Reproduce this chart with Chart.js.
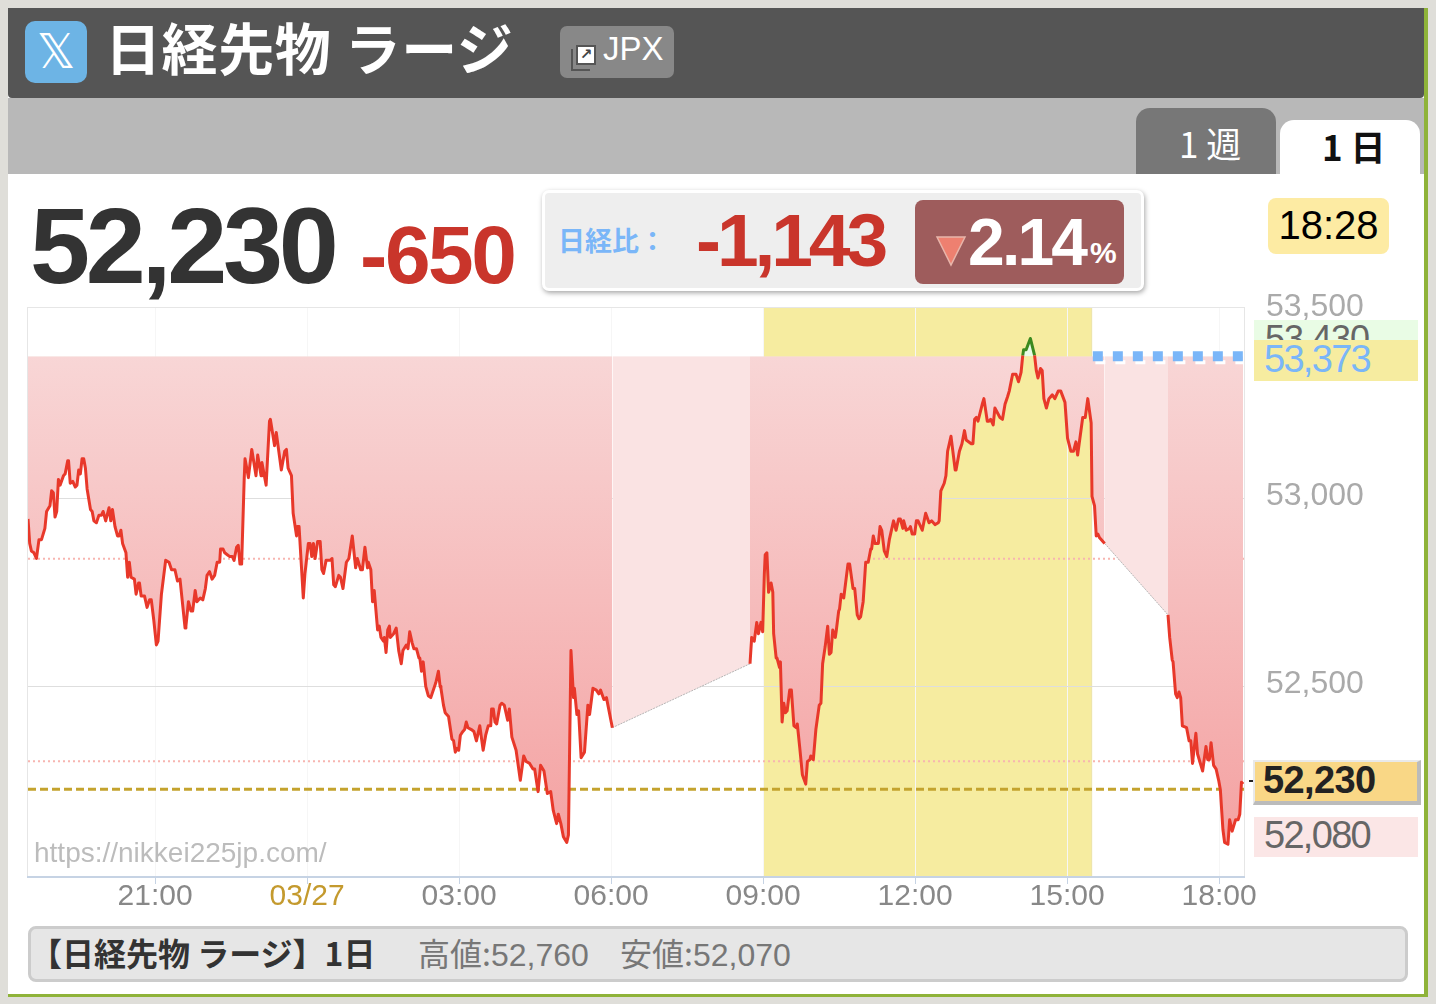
<!DOCTYPE html>
<html lang="ja">
<head>
<meta charset="utf-8">
<title>日経先物 ラージ</title>
<script src="https://cdn.jsdelivr.net/npm/chart.js@4/dist/chart.umd.min.js"></script>
<style>
  html, body { margin: 0; padding: 0; }
  body { width: 1436px; height: 1004px; overflow: hidden; position: relative; background: #dfded9;
         font-family: "Liberation Sans", Arial, sans-serif; }
  .a { position: absolute; white-space: nowrap; box-sizing: border-box; }
  .jp { font-family: "Noto Sans CJK JP", sans-serif; }
  #myChart { position: absolute; left: 0; top: 0; z-index: 2; }
</style>
</head>
<body>
<div class="a" style="left:8px;top:8px;width:1416px;height:986px;background:#fff;border-right:4px solid #8fb339;border-bottom:3px solid #8fb339;box-sizing:content-box"></div>
<div class="a" style="left:8px;top:98px;width:1416px;height:76px;background:#b8b8b8"></div>
<div class="a" style="left:8px;top:8px;width:1416px;height:90px;background:#555;border-radius:0 0 4px 4px"></div>

<div class="a" style="left:25px;top:21px;width:62px;height:62px;background:#6db4e5;border-radius:10px;color:#fff;font:48px/60px 'DejaVu Sans';text-align:center">𝕏</div>
<div class="a jp" style="left:105px;top:6px;color:#fff;font-size:56px;line-height:80px;font-weight:700;letter-spacing:0.6px">日経先物 ラージ</div>
<div class="a" style="left:560px;top:26px;width:114px;height:52px;background:#888;border-radius:7px"></div>
<div class="a" style="left:571px;top:49px;width:19px;height:22px;border:2px solid #555;border-top:0;border-right:0"></div>
<div class="a" style="left:576px;top:45px;width:20px;height:20px;background:#fff;border:2px solid #555;color:#444;font:bold 15px/15px 'DejaVu Sans';text-align:center">↗</div>
<div class="a" style="left:603px;top:29px;color:#fff;font-size:33px;line-height:40px">JPX</div>

<div class="a" style="left:1136px;top:108px;width:140px;height:66px;background:#777;border-radius:14px 14px 0 0"></div>
<div class="a jp" style="left:1179px;top:118px;color:#fff;font-size:35px;line-height:50px">1 週</div>
<div class="a" style="left:1280px;top:120px;width:140px;height:56px;background:#fff;border-radius:14px 14px 0 0"></div>
<div class="a jp" style="left:1322px;top:121px;color:#111;font-size:35px;line-height:50px;font-weight:700">1 日</div>

<div class="a" style="left:30px;top:186px;color:#333;font-size:108px;line-height:120px;font-weight:700;letter-spacing:-4.3px">52,230</div>
<div class="a" style="left:360px;top:208px;color:#c9352b;font-size:82px;line-height:94px;font-weight:700;letter-spacing:-2.4px">-650</div>

<div class="a" style="left:542px;top:190px;width:602px;height:101px;background:#eee;border:3px solid #fff;border-radius:7px;box-shadow:1px 2px 5px rgba(0,0,0,.35)"></div>
<div class="a jp" style="left:558px;top:220px;color:#7ab6f8;font-size:27px;line-height:40px;font-weight:700">日経比：</div>
<div class="a" style="left:696px;top:197px;color:#c9352b;font-size:75px;line-height:86px;font-weight:700;letter-spacing:-4.1px">-1,143</div>
<div class="a" style="left:915px;top:200px;width:209px;height:84px;background:#9e5c5c;border-radius:8px"></div>
<svg class="a" style="left:935px;top:235px" width="32" height="32"><polygon points="2,2 30,2 16,30" fill="#ee8070" stroke="#e8b5aa" stroke-width="1.5"/></svg>
<div class="a" style="left:968px;top:204px;color:#fff;font-size:66px;line-height:76px;font-weight:700;letter-spacing:-2.8px">2.14</div>
<div class="a" style="left:1090px;top:235px;color:#fff;font-size:30px;line-height:36px;font-weight:700">%</div>

<div class="a" style="left:1268px;top:198px;width:121px;height:56px;background:#fdeba3;border-radius:8px;color:#000;font-size:40px;line-height:54px;text-align:center">18:28</div>

<div class="a" style="left:27px;top:307px;width:1218px;height:571px;border:1px solid #e6e6e6;border-bottom:0"></div>

<div class="a" style="left:1254px;top:320px;width:164px;height:21px;background:#e9fce5;overflow:hidden">
  <div class="a" style="left:11px;top:-2px;color:#666;font-size:36px;line-height:42px;letter-spacing:-1px">53,430</div>
</div>
<div class="a" style="left:1254px;top:340px;width:164px;height:41px;background:#f6eca0;color:#7ab6f8;font-size:38px;line-height:38px;letter-spacing:-1.7px;padding-left:10px">53,373</div>
<div class="a" style="left:1249px;top:780px;width:10px;height:2px;background:#222"></div>
<div class="a" style="left:1253px;top:760px;width:168px;height:45px;background:#f9d786;border:2px solid #e9e9e9;border-right:4px solid #bbb;border-bottom:4px solid #bbb;color:#222;font-size:38px;line-height:36px;font-weight:700;letter-spacing:-0.6px;padding-left:8px">52,230</div>
<div class="a" style="left:1254px;top:817px;width:164px;height:40px;background:#fbe6e6;color:#666;font-size:38px;line-height:36px;letter-spacing:-1.7px;padding-left:10px">52,080</div>

<div class="a" style="left:28px;top:926px;width:1380px;height:56px;background:#e6e6e6;border:3px solid #ccc;border-radius:8px"></div>
<div class="a jp" style="left:30px;top:930px;color:#333;font-size:32px;line-height:44px;font-weight:700">【日経先物 ラージ】1日</div>
<div class="a jp" style="left:418px;top:930px;color:#777;font-size:32px;line-height:44px">高値:<span style="font-family:'Liberation Sans'">52,760</span></div>
<div class="a jp" style="left:620px;top:930px;color:#777;font-size:32px;line-height:44px">安値:<span style="font-family:'Liberation Sans'">52,070</span></div>

<canvas id="myChart" width="1436" height="1004"></canvas>
<div class="a" style="left:34px;top:835px;z-index:3;color:#bcbcbc;font-size:28px;line-height:36px">https://nikkei225jp.com/</div>

<script>
// minutes after 18:28 of the previous day, prices
var nightTimes = [0,2,4,7,10,13,16,20,22,26,28,30,32,34,36,38,42,44,47,48,50,53,56,58,60,62,64,66,68,70,74,76,78,81,84,87,89,92,96,98,100,103,106,108,110,112,116,118,120,122,126,128,131,132,134,138,141,144,146,149,152,154,158,163,167,170,174,177,180,186,187,190,193,195,198,200,204,207,210,212,215,218,221,224,227,228,231,233,236,239,242,244,247,249,251,253,256,257,261,265,270,272,276,277,282,286,287,292,294,300,304,306,308,312,314,318,319,321,326,328,332,334,336,338,340,343,346,348,350,353,358,360,362,364,368,370,373,377,380,384,388,390,394,396,399,402,403,406,408,410,414,416,418,421,422,424,426,428,429,433,436,439,442,444,448,450,452,455,457,460,463,464,466,468,471,474,477,483,486,488,489,492,494,498,502,504,506,508,510,512,515,517,519,521,525,528,531,535,539,542,545,548,549,551,553,555,559,561,564,568,570,573,578,583,587,590,594,598,600,604,607,611,615,619,622,626,628,631,634,638,640,643,646,647,650,652,655,659,663,665,669,673,676,678,682,685,692];
var nightPrices = [52945,52880,52860,52855,52840,52890,52890,52920,52965,52980,53020,53015,52950,52965,53050,53035,53060,53065,53100,53100,53040,53045,53030,53035,53075,53065,53105,53105,53080,53025,52970,52965,52940,52935,52955,52955,52965,52940,52975,52940,52970,52925,52900,52900,52915,52880,52855,52790,52830,52790,52785,52745,52775,52775,52740,52740,52710,52730,52730,52675,52610,52620,52745,52835,52830,52810,52810,52780,52785,52655,52660,52725,52700,52700,52755,52725,52735,52730,52760,52795,52805,52785,52795,52830,52830,52865,52865,52855,52850,52845,52845,52835,52870,52875,52825,52825,53050,53105,53055,53130,53060,53115,53060,53095,53035,53205,53210,53140,53175,53075,53125,53130,53080,53060,52960,52900,52925,52925,52735,52800,52880,52880,52845,52880,52840,52885,52885,52810,52800,52835,52835,52840,52770,52765,52795,52790,52760,52830,52840,52900,52815,52840,52810,52810,52870,52815,52830,52810,52725,52755,52650,52660,52630,52620,52630,52590,52650,52660,52630,52640,52655,52595,52560,52595,52610,52600,52645,52615,52600,52600,52575,52575,52540,52565,52500,52475,52470,52510,52540,52500,52495,52450,52430,52420,52360,52355,52325,52335,52330,52370,52380,52385,52405,52390,52385,52380,52355,52395,52330,52370,52395,52395,52440,52440,52405,52400,52450,52455,52450,52410,52440,52365,52330,52250,52315,52300,52295,52280,52280,52220,52290,52275,52215,52220,52170,52135,52160,52135,52100,52085,52105,52595,52470,52495,52425,52435,52310,52325,52450,52425,52495,52490,52480,52490,52465,52470,52390];
var dayTimes = [855,857,860,863,865,868,870,872,873,875,877,880,882,883,886,887,890,891,893,895,897,899,902,904,907,910,911,914,917,921,923,926,927,930,933,937,939,941,944,947,949,951,953,956,957,960,961,963,966,971,973,977,979,982,984,986,989,992,995,998,999,1001,1003,1007,1009,1011,1014,1017,1020,1025,1028,1031,1033,1036,1037,1040,1044,1045,1047,1050,1052,1054,1059,1063,1067,1070,1074,1078,1079,1081,1085,1087,1089,1093,1098,1099,1103,1106,1109,1111,1117,1119,1121,1123,1125,1130,1132,1136,1138,1140,1143,1145,1151,1154,1157,1160,1162,1166,1168,1170,1173,1176,1178,1179,1182,1187,1192,1194,1196,1199,1201,1203,1206,1209,1213,1216,1220,1223,1228,1231,1235,1238,1241,1243,1249,1252,1255,1259,1260,1263,1265,1267,1269,1275];
var dayPrices = [52560,52630,52620,52670,52640,52670,52645,52800,52850,52855,52750,52775,52750,52640,52575,52575,52550,52565,52405,52455,52430,52435,52490,52490,52395,52390,52400,52335,52265,52240,52300,52305,52315,52305,52385,52450,52455,52560,52605,52660,52585,52590,52650,52630,52645,52700,52705,52745,52735,52825,52825,52760,52760,52690,52680,52685,52725,52830,52830,52865,52865,52900,52880,52880,52925,52915,52860,52845,52890,52940,52915,52945,52945,52920,52940,52915,52920,52925,52905,52905,52940,52940,52915,52960,52935,52940,52930,52935,52940,53020,53040,53060,53125,53165,53075,53075,53125,53145,53180,53155,53145,53145,53210,53215,53205,53250,53265,53205,53205,53210,53195,53240,53215,53210,53250,53270,53285,53330,53330,53330,53310,53335,53380,53395,53395,53425,53380,53340,53320,53345,53340,53265,53240,53265,53275,53265,53285,53285,53255,53160,53125,53125,53150,53115,53215,53215,53265,53200,53005,52980,52900,52905,52895,52880];
var eveningTimes = [1350,1352,1355,1356,1359,1361,1363,1365,1367,1372,1375,1377,1379,1383,1385,1391,1395,1397,1399,1401,1404,1407,1410,1412,1415,1417,1421,1423,1426,1430,1433,1435,1437,1439];
var eveningPrices = [52690,52630,52570,52565,52480,52470,52485,52470,52395,52390,52355,52355,52295,52375,52320,52275,52340,52305,52305,52350,52290,52280,52250,52225,52120,52085,52080,52145,52115,52145,52145,52160,52245,52240];

var tickMinutes = [150.5,330.5,510.5,690.5,870.5,1050.5,1230.5,1410.5];
var tickLabels = ['21:00','03/27','03:00','06:00','09:00','12:00','15:00','18:00'];
var priceTicks = [53500,53000,52500];

var basePrice = 53378;      // top of the pink area, the 53,373 line
var currentLevel = 52226;   // gold dashed line
var dottedLevels = [52839,52301];
var dayBand = [870.5,1259]; // yellow daytime session
var baseLineFrom = 1261;

function points(times, prices) {
  return times.map(function (t, i) { return { x: t, y: prices[i] }; });
}
function lastOf(a) { return a[a.length - 1]; }

var ctx = document.getElementById('myChart').getContext('2d');
var gradient = ctx.createLinearGradient(0, 356, 0, 845);
gradient.addColorStop(0, '#f8d6d6');
gradient.addColorStop(1, '#f4a2a2');

function sessionSet(times, prices) {
  return {
    data: points(times, prices),
    borderColor: '#e8382a',
    borderWidth: 3,
    borderJoinStyle: 'round',
    pointRadius: 0,
    tension: 0,
    order: 1,
    fill: { target: { value: basePrice }, above: '#e9fbe6', below: gradient },
    segment: {
      borderColor: function (c) {
        return (c.p0.parsed.y >= basePrice && c.p1.parsed.y >= basePrice) ? '#3b8a1f' : undefined;
      }
    }
  };
}
function gapSet(times, prices) {
  return {
    data: points(times, prices),
    borderColor: '#b5b5b5',
    borderWidth: 1,
    borderDash: [2, 1],
    pointRadius: 0,
    order: 2,
    fill: { target: { value: basePrice }, below: '#fae3e3' }
  };
}
function levelSet(v, color, width, dash, from) {
  return {
    data: [{ x: from || 0, y: v }, { x: 1440, y: v }],
    borderColor: color,
    borderWidth: width,
    borderDash: dash,
    pointRadius: 0,
    fill: false,
    order: 5
  };
}

var bandPlugin = {
  id: 'dayBand',
  beforeDraw: function (chart) {
    var x = chart.scales.x, a = chart.chartArea, c = chart.ctx;
    var x0 = x.getPixelForValue(dayBand[0]), x1 = x.getPixelForValue(dayBand[1]);
    c.save();
    c.fillStyle = '#f6eca0';
    c.fillRect(x0, a.top, x1 - x0, a.bottom - a.top);
    c.fillStyle = '#ebe2a0';
    c.fillRect(x1, a.top, 1, a.bottom - a.top);
    c.restore();
  }
};

var topSet = levelSet(basePrice, '#7ab6f8', 10, [10, 10], baseLineFrom);
topSet.order = 0;
var shadowSet = levelSet(53362, '#ffffff', 4, [10, 10], baseLineFrom + 3);
shadowSet.order = 0.5;

var chart = new Chart(ctx, {
  type: 'line',
  data: {
    datasets: [
      sessionSet(nightTimes, nightPrices),
      sessionSet(dayTimes, dayPrices),
      sessionSet(eveningTimes, eveningPrices),
      gapSet([lastOf(nightTimes), dayTimes[0]], [lastOf(nightPrices), dayPrices[0]]),
      gapSet([lastOf(dayTimes), eveningTimes[0]], [lastOf(dayPrices), eveningPrices[0]]),
      levelSet(dottedLevels[0], '#f7b5b0', 2, [2, 3]),
      levelSet(dottedLevels[1], '#f7b5b0', 2, [2, 3]),
      levelSet(currentLevel, '#c4a32e', 3, [8, 4]),
      shadowSet,
      topSet
    ]
  },
  plugins: [bandPlugin],
  options: {
    responsive: false,
    animation: false,
    devicePixelRatio: 1,
    parsing: false,
    layout: { padding: { left: 28, top: 308, right: 0, bottom: 0 } },
    plugins: { legend: { display: false }, tooltip: { enabled: false } },
    scales: {
      x: {
        type: 'linear',
        min: 0,
        max: 1440,
        afterBuildTicks: function (s) { s.ticks = tickMinutes.map(function (v) { return { value: v }; }); },
        afterFit: function (s) { s.height = 127; s.paddingLeft = 0; s.paddingRight = 0; },
        border: { color: '#c6d3e4', width: 2 },
        grid: { color: '#f6f6f6', tickColor: '#c6d3e4', tickLength: 7 },
        ticks: {
          autoSkip: false,
          maxRotation: 0,
          padding: -5,
          font: { family: 'Liberation Sans', size: 30 },
          color: function (c) { return c.index === 1 ? '#c49a2e' : '#888888'; },
          callback: function (v, i) { return tickLabels[i]; }
        }
      },
      y: {
        position: 'right',
        min: 51993,
        max: 53506,
        afterBuildTicks: function (s) { s.ticks = priceTicks.map(function (v) { return { value: v }; }); },
        afterFit: function (s) { s.width = 192; s.paddingTop = 0; s.paddingBottom = 0; },
        border: { display: false },
        grid: {
          drawTicks: false,
          color: function (c) { return c.index === 0 ? 'rgba(0,0,0,0)' : '#dedede'; }
        },
        ticks: {
          padding: 22,
          // the extra empty line moves the label up by half the line height
          font: function (c) {
            return { family: 'Liberation Sans', size: 32, lineHeight: c.index === 0 ? '6px' : '4px' };
          },
          color: '#aaaaaa',
          callback: function (v) { return [v.toLocaleString('en-US'), '']; }
        }
      }
    }
  }
});
</script>
</body>
</html>
